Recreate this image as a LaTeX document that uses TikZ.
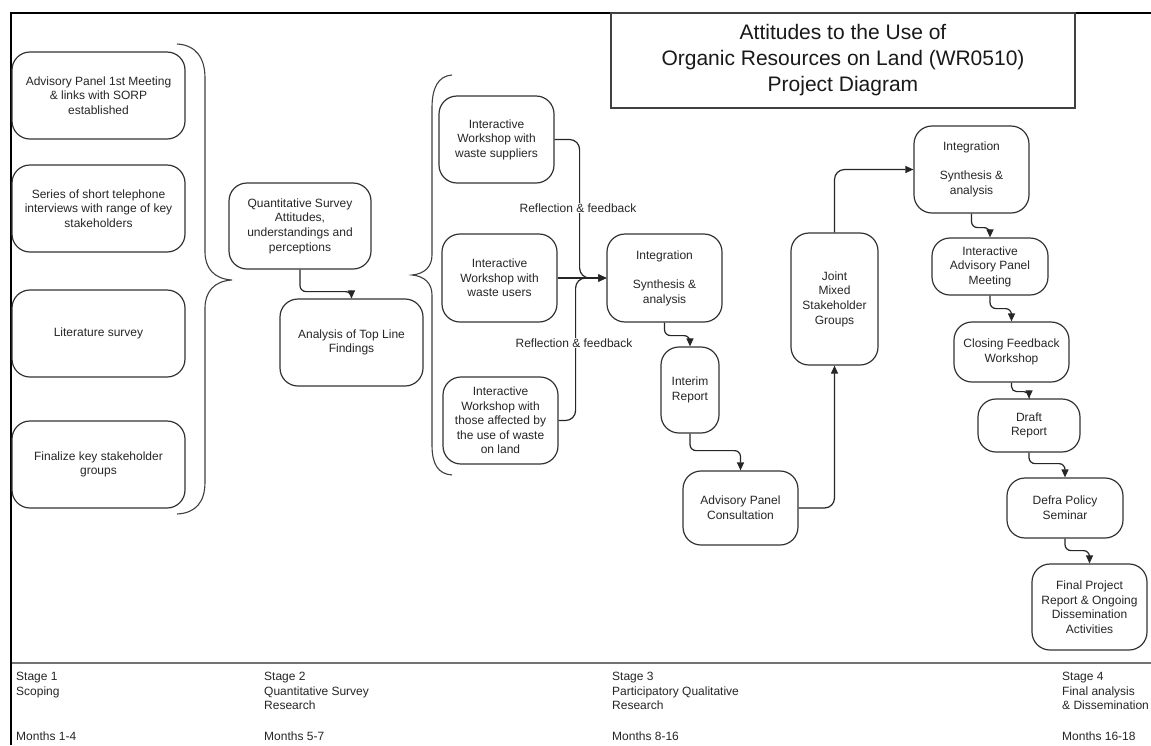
\documentclass[tikz,border=0pt]{standalone}
\usepackage{fontspec}
\setmainfont{Liberation Sans}
\usetikzlibrary{arrows.meta}
\begin{document}
\begin{tikzpicture}[x=1pt,y=-1pt,
  box/.style={draw=black!80, line width=1.2pt, rounded corners=18pt, align=center, inner sep=2pt, text=black!85, font=\fontsize{12}{14.6}\selectfont},
  conn/.style={draw=black!85, line width=1.2pt, -{Triangle[length=8pt,width=7pt]}},
  bracestyle/.style={draw=black!75, line width=1.1pt},
  lbl/.style={fill=white, inner sep=1pt, text=black!85, font=\fontsize{12}{14.6}\selectfont},
  stagetxt/.style={anchor=north west, align=left, inner sep=0pt, text=black!85, font=\fontsize{12}{14.6}\selectfont}
]
\useasboundingbox (0,0) rectangle (1151,745);
\fill[white] (0,0) rectangle (1151,745);

% frame
\draw[line width=2.6pt, black] (11,745) -- (11,13) -- (1151,13);
\draw[line width=2pt, black!55] (12,663) -- (1151,663);

% title
\node[draw=black!75, line width=1.2pt, minimum width=464pt, minimum height=95pt, align=center, text=black!90, font=\fontsize{21}{26}\selectfont] (title) at (843,60.5) {Attitudes to the Use of\\Organic Resources on Land (WR0510)\\Project Diagram};

% stage 1 boxes
\node[box, minimum width=173pt, minimum height=87pt] (a1) at (98.5,95.5) {Advisory Panel 1st Meeting\\\& links with SORP\\established};
\node[box, minimum width=173pt, minimum height=87pt] (a2) at (98.5,208.5) {Series of short telephone\\interviews with range of key\\stakeholders};
\node[box, minimum width=173pt, minimum height=87pt] (a3) at (98.5,333.5) {Literature survey};
\node[box, minimum width=173pt, minimum height=87pt] (a4) at (98.5,464.5) {Finalize key stakeholder\\groups};

% brace 1
\draw[bracestyle] (177,44) .. controls (196,45) and (205,58) .. (205,78) -- (205,252)
  .. controls (205,268) and (214,279) .. (232,280)
  .. controls (214,281) and (205,292) .. (205,308) -- (205,482)
  .. controls (205,502) and (196,513) .. (177,514);

% stage 2
\node[box, minimum width=142pt, minimum height=86pt] (q) at (300,226) {Quantitative Survey\\Attitudes,\\understandings and\\perceptions};
\node[box, minimum width=143pt, minimum height=87pt] (f) at (351.5,342.5) {Analysis of Top Line\\Findings};
\draw[conn, rounded corners=6pt] (q.south) -- ++(0,22) -| (f.north);

% brace 2
\draw[bracestyle] (452,75) .. controls (438,76) and (432,88) .. (432,108) -- (432,255)
  .. controls (432,267) and (424,274) .. (412,275)
  .. controls (424,276) and (432,283) .. (432,295) -- (432,445)
  .. controls (432,464) and (438,474) .. (452,475);

% stage 3
\node[box, minimum width=115pt, minimum height=87pt] (w1) at (496.5,139.5) {Interactive\\Workshop with\\waste suppliers};
\node[box, minimum width=115pt, minimum height=88pt] (w2) at (499.5,278) {Interactive\\Workshop with\\waste users};
\node[box, minimum width=115pt, minimum height=87pt] (w3) at (500.5,420.5) {Interactive\\Workshop with\\those affected by\\the use of waste\\on land};
\node[box, minimum width=115pt, minimum height=88pt] (i1) at (664.5,278) {Integration\\[14.6pt]Synthesis \&\\analysis};
\node[box, minimum width=58pt, minimum height=86pt] (ir) at (690,390) {Interim\\Report};
\node[box, minimum width=115pt, minimum height=74pt] (apc) at (740.5,508) {Advisory Panel\\Consultation};
\node[box, minimum width=87pt, minimum height=132pt] (jm) at (834.5,299) {Joint\\Mixed\\Stakeholder\\Groups};

\draw[conn, rounded corners=10pt] (w1.east) -- ++(25,0) |- (i1.west);
\draw[conn, rounded corners=10pt] (w3.east) -- ++(17,0) |- (i1.west);
\draw[conn] (w2.east) -- (i1.west);
\node[lbl] (lb1) at (578,208) {Reflection \& feedback};
\node[lbl] (lb2) at (574,343) {Reflection \& feedback};

\draw[conn, rounded corners=6pt] (i1.south) -- ++(0,13) -| (ir.north);
\draw[conn, rounded corners=6pt] (ir.south) -- ++(0,17) -| (apc.north);
\draw[conn, rounded corners=10pt] (apc.east) -| (jm.south);

% stage 4
\node[box, minimum width=115pt, minimum height=87pt] (i2) at (971.5,169.5) {Integration\\[14.6pt]Synthesis \&\\analysis};
\node[box, minimum width=116pt, minimum height=57pt] (iapm) at (990,266.5) {Interactive\\Advisory Panel\\Meeting};
\node[box, minimum width=115pt, minimum height=60pt] (cfw) at (1011.5,352) {Closing Feedback\\Workshop};
\node[box, minimum width=102pt, minimum height=53pt] (dr) at (1029,425.5) {Draft\\Report};
\node[box, minimum width=116pt, minimum height=60pt] (dps) at (1065,508) {Defra Policy\\Seminar};
\node[box, minimum width=115pt, minimum height=86pt] (fpr) at (1089.5,607) {Final Project\\Report \& Ongoing\\Dissemination\\Activities};

\draw[conn, rounded corners=10pt] (jm.north) |- (i2.west);
\draw[conn, rounded corners=6pt] (i2.south) -- ++(0,14) -| (iapm.north);
\draw[conn, rounded corners=6pt] (iapm.south) -- ++(0,13) -| (cfw.north);
\draw[conn, rounded corners=5pt] (cfw.south) -- ++(0,9) -| (dr.north);
\draw[conn, rounded corners=6pt] (dr.south) -- ++(0,11) -| (dps.north);
\draw[conn, rounded corners=6pt] (dps.south) -- ++(0,12) -| (fpr.north);

% stage labels
\node[stagetxt] (s1) at (16,672) {Stage 1\\Scoping};
\node[stagetxt] (s2) at (264,672) {Stage 2\\Quantitative Survey\\Research};
\node[stagetxt] (s3) at (612,672) {Stage 3\\Participatory Qualitative\\Research};
\node[stagetxt] (s4) at (1062,672) {Stage 4\\Final analysis\\\& Dissemination};
\node[stagetxt] (m1) at (16,732) {Months 1-4};
\node[stagetxt] (m2) at (264,732) {Months 5-7};
\node[stagetxt] (m3) at (612,732) {Months 8-16};
\node[stagetxt] (m4) at (1062,732) {Months 16-18};
\end{tikzpicture}
\end{document}
